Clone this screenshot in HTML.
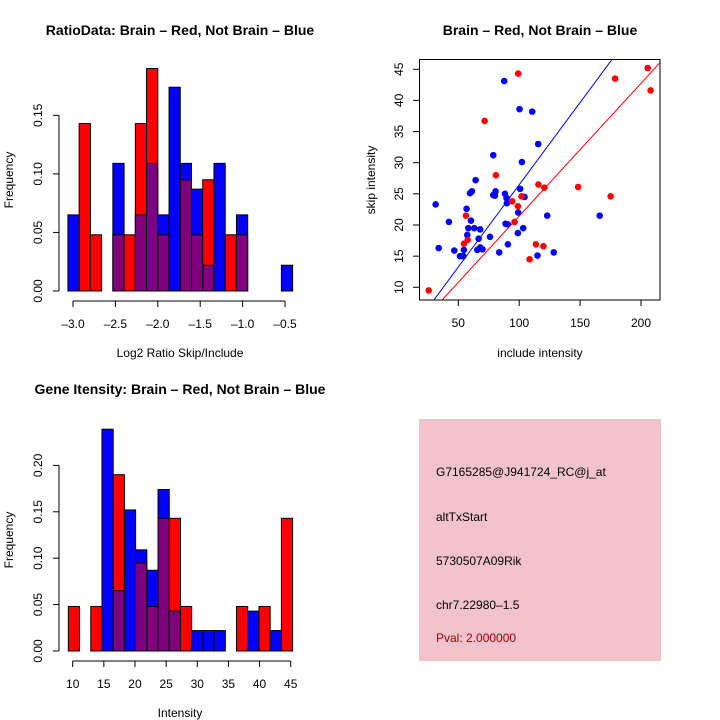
<!DOCTYPE html>
<html><head><meta charset="utf-8"><style>
body{margin:0;background:#fff;}
svg{display:block;font-family:"Liberation Sans",sans-serif;}
</style></head><body>
<svg id="c" width="720" height="720"></svg>
<script>
// Top-left histogram data (ratio)
const ratioBinStart=-3.06, ratioBinWidth=0.1325;
const ratioBlue=[0.065,0,0,0,0.109,0,0.065,0.109,0.065,0.174,0.109,0.087,0.022,0.109,0,0.065,0,0,0,0.022];
const ratioRed=[0,0.143,0.048,0,0.048,0.048,0.143,0.19,0.048,0,0.095,0.048,0.095,0,0.048,0.048,0,0,0,0];
const ratioXTicks=[-3.0,-2.5,-2.0,-1.5,-1.0,-0.5];
const ratioYTicks=[0,0.05,0.10,0.15];
// Bottom-left histogram (intensity)
const intBinStart=9.3, intBinWidth=1.8;
const intBlue=[0,0,0,0.239,0.065,0.152,0.109,0.087,0.174,0.043,0,0.022,0.022,0.022,0,0,0.043,0,0.022,0];
const intRed=[0.048,0,0.048,0,0.19,0,0.095,0.048,0.143,0.143,0.048,0,0,0,0,0.048,0,0.048,0,0.143];
const intXTicks=[10,15,20,25,30,35,40,45];
const intYTicks=[0,0.05,0.10,0.15,0.20];
// Scatter
const blueX=[31.4,33.9,42.3,46.7,51.4,54.6,54.1,56.8,57.4,58.2,59.6,61.2,60.4,63.1,64.2,65.6,66.7,68.0,68.0,69.9,76.0,78.7,78.7,80.6,80.1,83.6,87.7,88.3,88.8,89.6,89.9,90.7,90.7,98.9,99.2,100.3,100.8,102.2,103.3,104.4,110.7,115.0,115.6,123.0,128.4,166.1];
const blueY=[23.3,16.3,20.5,15.9,15.0,16.0,15.0,22.6,18.4,19.5,25.1,25.4,20.7,19.5,27.2,16.0,17.8,19.3,16.4,16.1,18.1,31.2,24.8,25.4,24.7,15.6,43.1,25.0,20.2,24.3,23.5,16.9,20.1,18.7,22.0,38.6,25.8,30.1,19.5,24.5,38.2,15.1,33.0,21.5,15.6,21.5];
const redX=[25.7,54.6,56.3,57.7,71.6,80.9,94.3,96.2,98.9,99.2,101.9,108.5,113.7,115.8,119.9,120.7,148.4,175.1,178.7,205.5,207.9];
const redY=[9.5,17.0,21.5,17.6,36.7,28.0,23.8,20.5,23.0,44.3,24.6,14.5,16.9,26.5,16.6,26.0,26.1,24.6,43.5,45.2,41.6];
const blueFit=[0.264,0.06]; // slope, intercept
const redFit=[0.213,0.14];
const scXTicks=[50,100,150,200];
const scYTicks=[10,15,20,25,30,35,40,45];

const NS="http://www.w3.org/2000/svg";
const svg=document.getElementById('c');
function el(tag,attrs,parent){const e=document.createElementNS(NS,tag);for(const k in attrs)e.setAttribute(k,attrs[k]);(parent||svg).appendChild(e);return e;}
function txt(s,x,y,size,opts){const t=el('text',Object.assign({x:x,y:y,'font-size':size,'text-anchor':'middle',fill:'#000'},opts||{}));t.textContent=s;return t;}

function hist(g,blue,red,binStart,binW,xs,ys,y0,xTicks,yTicks,yLab,yLabX){
  for(let i=0;i<blue.length;i++){
    const b=blue[i],r=red[i];
    const x0=xs(binStart+i*binW),x1=xs(binStart+(i+1)*binW);
    const mx=Math.max(b,r),mn=Math.min(b,r);
    if(mx>0){
      const rc=el('rect',{x:x0,y:ys(mx),width:x1-x0,height:ys(0)-ys(mx),fill:(r>=b?'#ff0000':'#0000ff'),stroke:'#000','stroke-width':1},g);
      
      
    }
    if(mn>0){
      const pc=el('rect',{x:x0,y:ys(mn),width:x1-x0,height:ys(0)-ys(mn),fill:'#7f007f',stroke:'#000','stroke-width':1},g);
      
      
    }
  }
  const ax=el('g',{},g);
  el('line',{x1:xs(xTicks[0]),x2:xs(xTicks[xTicks.length-1]),y1:y0,y2:y0,stroke:'#000'},ax);
  xTicks.forEach(v=>{el('line',{x1:xs(v),x2:xs(v),y1:y0,y2:y0+6,stroke:'#000'},ax);txt(v.toFixed(String(v).includes('.')||xTicks.some(t=>t%1)?1:0).replace('-','\u2013'),xs(v),y0+27,12,{});});
  const ay=el('g',{},g);
  el('line',{x1:59,x2:59,y1:ys(yTicks[0]),y2:ys(yTicks[yTicks.length-1]),stroke:'#000'},ay);
  yTicks.forEach(v=>{el('line',{x1:53,x2:59,y1:ys(v),y2:ys(v),stroke:'#000'},ay);const t=txt(v.toFixed(2),0,0,12,{transform:'translate(42,'+ys(v)+') rotate(-90)'});ay.appendChild(t);});
}
// top-left
const g1=el('g',{});
const xs1=v=>73+(v+3)*84.8, ys1=v=>291-v*1171;
hist(g1,ratioBlue,ratioRed,ratioBinStart,ratioBinWidth,xs1,ys1,301,ratioXTicks,ratioYTicks);
txt('RatioData: Brain \u2013 Red, Not Brain \u2013 Blue',180,35,14,{'font-weight':'bold'});
txt('Log2 Ratio Skip/Include',180,357,12);
txt('Frequency',0,0,12,{transform:'translate(13,180) rotate(-90)'});
// bottom-left
const g2=el('g',{});
const xs2=v=>72.7+(v-10)*6.229, ys2=v=>651-v*928;
hist(g2,intBlue,intRed,intBinStart,intBinWidth,xs2,ys2,661,intXTicks,intYTicks);
txt('Gene Itensity: Brain \u2013 Red, Not Brain \u2013 Blue',180,394,14,{'font-weight':'bold'});
txt('Intensity',180,717,12);
txt('Frequency',0,0,12,{transform:'translate(13,540) rotate(-90)'});
// scatter
const g3=el('g',{});
const sx=v=>458.3+(v-50)*1.218, sy=v=>287.3-(v-10)*6.23;
const cp=el('clipPath',{id:'clip'},g3);el('rect',{x:419.5,y:59.5,width:240.5,height:240.5},cp);
const pts=el('g',{'clip-path':'url(#clip)'},g3);
blueX.forEach((x,i)=>{const c=el('circle',{cx:sx(x),cy:sy(blueY[i]),r:3.3,fill:'#0000ff'},pts);});
redX.forEach((x,i)=>{const c=el('circle',{cx:sx(x),cy:sy(redY[i]),r:3.3,fill:'#ff0000'},pts);});
const bl=el('line',{x1:sx(0),y1:sy(blueFit[1]),x2:sx(250),y2:sy(blueFit[0]*250+blueFit[1]),stroke:'#0000ff'},pts);
const rl=el('line',{x1:sx(0),y1:sy(redFit[1]),x2:sx(250),y2:sy(redFit[0]*250+redFit[1]),stroke:'#ff0000'},pts);
el('rect',{x:419.5,y:59.5,width:240.5,height:240.5,fill:'none',stroke:'#000'},g3);
scXTicks.forEach(v=>{el('line',{x1:sx(v),x2:sx(v),y1:300,y2:306,stroke:'#000'},g3);txt(String(v),sx(v),327,12);});
scYTicks.forEach(v=>{el('line',{x1:413,x2:419.5,y1:sy(v),y2:sy(v),stroke:'#000'},g3);txt(String(v),0,0,12,{transform:'translate(403,'+sy(v)+') rotate(-90)'});});
txt('Brain \u2013 Red, Not Brain \u2013 Blue',540,35,14,{'font-weight':'bold'});
txt('include intensity',540,357,12);
txt('skip intensity',0,0,12,{transform:'translate(375,180) rotate(-90)'});
// info box
const ib=el('g',{});
el('rect',{x:419,y:419,width:242,height:242,fill:'#f3c3cd'},ib);
const lines=['G7165285@J941724_RC@j_at','altTxStart','5730507A09Rik','chr7.22980\u20131.5'];
const ly=[476,521,565,609];
lines.forEach((s,i)=>{txt(s,436,ly[i],12,{'text-anchor':'start'});});
txt('Pval: 2.000000',436,642,12,{'text-anchor':'start',fill:'#a00000'});
</script>
</body></html>
